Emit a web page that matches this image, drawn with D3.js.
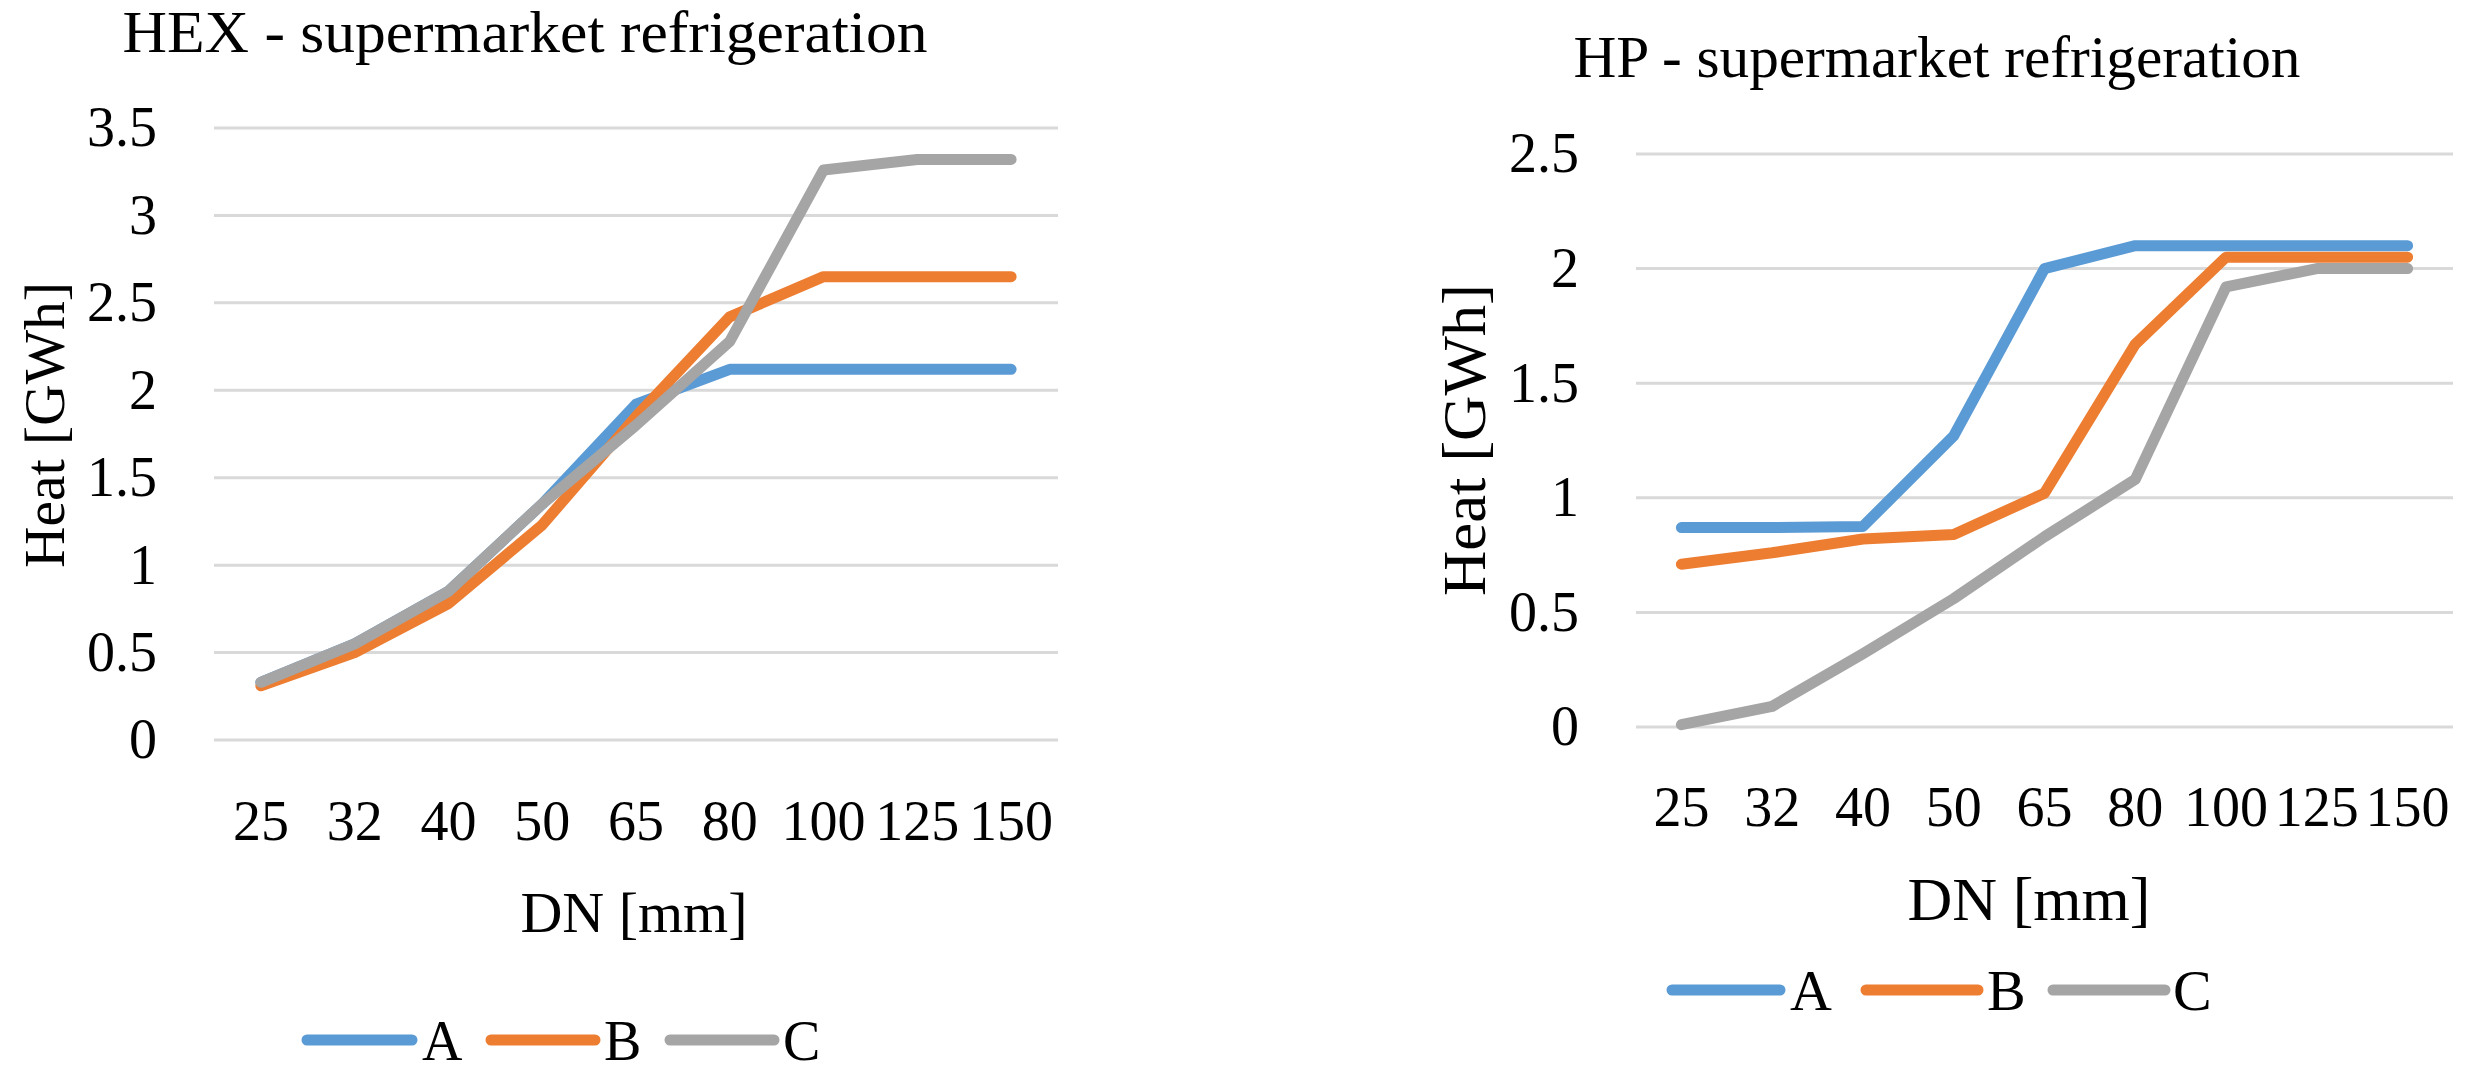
<!DOCTYPE html>
<html><head><meta charset="utf-8">
<script src="https://cdnjs.cloudflare.com/ajax/libs/d3/7.8.5/d3.min.js"></script>
<style>
body{margin:0;background:#fff}
svg{display:block}
text{font-family:"Liberation Serif","DejaVu Serif",serif;fill:#000}
</style>
</head><body>
<svg id="c" width="2466" height="1073"></svg>
<script>
// ---- data ----
const categories = ["25","32","40","50","65","80","100","125","150"];
const seriesNames = ["A","B","C"];
const seriesColors = ["#5B9BD5","#ED7D31","#A5A5A5"];

const hexA = [0.33,0.55,0.85,1.35,1.92,2.12,2.12,2.12,2.12];
const hexB = [0.31,0.50,0.78,1.23,1.85,2.42,2.65,2.65,2.65];
const hexC = [0.33,0.55,0.85,1.35,1.80,2.28,3.26,3.32,3.32];

const hpA = [0.87,0.87,0.875,1.27,2.00,2.10,2.10,2.10,2.10];
const hpB = [0.71,0.76,0.82,0.84,1.02,1.67,2.05,2.05,2.05];
const hpC = [0.01,0.09,0.32,0.56,0.83,1.08,1.92,2.00,2.00];

const hexTicks = [0,0.5,1,1.5,2,2.5,3,3.5];
const hpTicks = [0,0.5,1,1.5,2,2.5];

const svg = d3.select("#c");

function drawChart(cfg){
  const g = svg.append("g");
  const x = d3.scaleBand().domain(categories).range([cfg.x0,cfg.x1]);
  const y = d3.scaleLinear().domain([0,cfg.ymax]).range([cfg.y0,cfg.y1]);

  // gridlines
  g.append("g").selectAll("line").data(cfg.ticks).join("line")
    .attr("x1",cfg.x0).attr("x2",cfg.x1)
    .attr("y1",d=>y(d)).attr("y2",d=>y(d))
    .attr("stroke","#d9d9d9").attr("stroke-width",3);

  // y axis labels
  const yAxis = d3.axisLeft(y).tickValues(cfg.ticks).tickSize(0).tickPadding(0)
     .tickFormat(d=>String(d));
  const ya = g.append("g").attr("transform",`translate(${cfg.ylabX},0)`).call(yAxis);
  ya.select(".domain").remove();
  ya.selectAll("text").attr("font-size",cfg.fs).attr("font-family",null).attr("fill","#000");

  // x axis labels
  const xAxis = d3.axisBottom(x).tickSize(0).tickPadding(0);
  const xa = g.append("g").attr("transform",`translate(0,${cfg.xlabY})`).call(xAxis);
  xa.select(".domain").remove();
  xa.selectAll("text").attr("font-size",cfg.fs).attr("font-family",null).attr("fill","#000");

  // lines
  const line = d3.line().x((d,i)=>x(categories[i])+x.bandwidth()/2).y(d=>y(d));
  cfg.series.forEach((s,i)=>{
    g.append("path").datum(s).attr("d",line)
      .attr("fill","none").attr("stroke",seriesColors[i])
      .attr("stroke-width",cfg.lw).attr("stroke-linejoin","round").attr("stroke-linecap","round");
  });

  // title
  g.append("text").attr("x",cfg.titleX).attr("y",cfg.titleY).attr("text-anchor","middle")
    .attr("font-size",cfg.tfs).attr("textLength",cfg.titleLen).attr("lengthAdjust","spacingAndGlyphs")
    .text(cfg.title);
  // x axis title
  g.append("text").attr("x",cfg.xtX).attr("y",cfg.xtY).attr("text-anchor","middle")
    .attr("font-size",cfg.afs).text("DN [mm]");
  // y axis title
  g.append("text").attr("transform",`translate(${cfg.ytX},${cfg.ytY}) rotate(-90)`)
    .attr("text-anchor","middle").attr("dy","0.35em")
    .attr("font-size",cfg.afs).attr("textLength",cfg.ytLen).attr("lengthAdjust","spacingAndGlyphs")
    .text("Heat [GWh]");

  // legend
  const lg = g.append("g");
  seriesNames.forEach((n,i)=>{
    lg.append("line").attr("x1",cfg.leg[i][0]).attr("x2",cfg.leg[i][1])
      .attr("y1",cfg.legY).attr("y2",cfg.legY)
      .attr("stroke",seriesColors[i]).attr("stroke-width",cfg.lw).attr("stroke-linecap","round");
    lg.append("text").attr("x",cfg.leg[i][2]).attr("y",cfg.legY).attr("dy","0.35em")
      .attr("font-size",cfg.lfs).text(n);
  });
}

drawChart({
  title:"HEX - supermarket refrigeration",
  x0:214,x1:1058,y0:740,y1:128,ymax:3.5,ticks:hexTicks,
  series:[hexA,hexB,hexC],
  ylabX:157,xlabY:800,fs:56,lw:11,
  titleX:525,titleY:52,tfs:60,titleLen:805,
  xtX:634,xtY:932,afs:58,ytLen:286,
  ytX:44,ytY:425,lfs:56,
  legY:1040,leg:[[307,412,422],[491,595,604],[670,774,783]]
});

drawChart({
  title:"HP - supermarket refrigeration",
  x0:1636,x1:2453,y0:727,y1:154,ymax:2.5,ticks:hpTicks,
  series:[hpA,hpB,hpC],
  ylabX:1579,xlabY:786,fs:56,lw:11,
  titleX:1937,titleY:77,tfs:60,titleLen:727,
  xtX:2029,xtY:920,afs:62,ytLen:312,
  ytX:1463,ytY:440,lfs:58,
  legY:990,leg:[[1672,1780,1790],[1866,1978,1987],[2053,2165,2173]]
});
</script>
</body></html>
